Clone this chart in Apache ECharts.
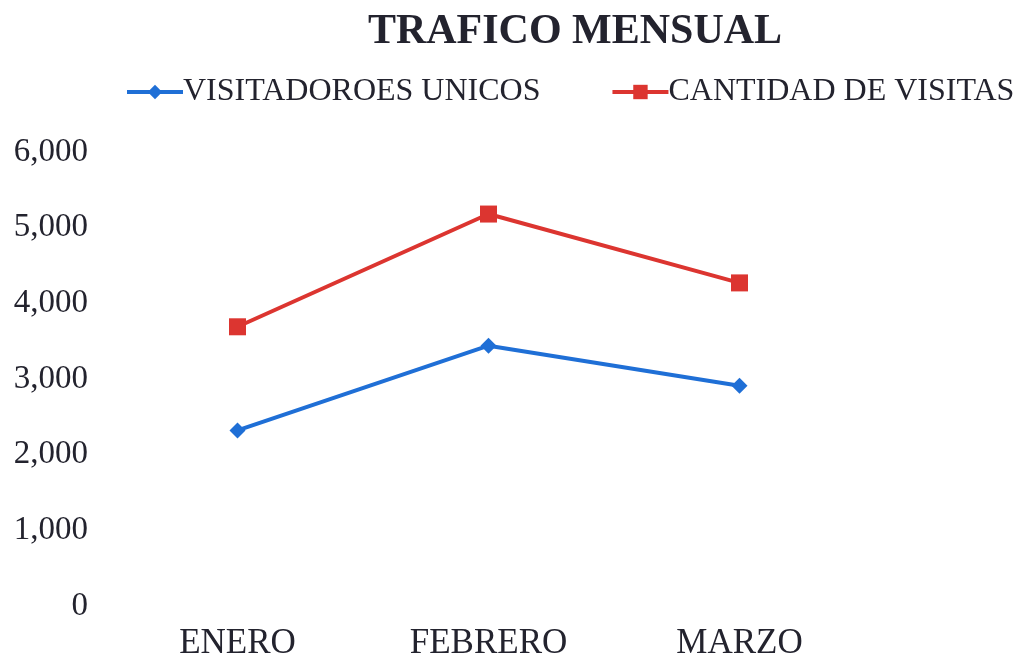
<!DOCTYPE html>
<html>
<head>
<meta charset="utf-8">
<script src="https://cdn.jsdelivr.net/npm/echarts@6/dist/echarts.min.js"></script>
<style>
  html, body { margin: 0; padding: 0; background: #fff; }
  #chart { width: 1022px; height: 661px; }
</style>
</head>
<body>
<div id="chart"></div>
<script>
// === Données ===
const meses = ['ENERO', 'FEBRERO', 'MARZO'];
const visitantesUnicos = [2320, 3440, 2910];
const cantidadVisitas = [3690, 5180, 4270];
const nombresSeries = ['VISITADOROES UNICOS', 'CANTIDAD DE VISITAS'];

const fuente = '"Liberation Serif", "DejaVu Serif", serif';
const colorTexto = '#23232e';

const chart = echarts.init(document.getElementById('chart'));
chart.setOption({
    animation: false,
    title: {
        text: 'TRAFICO MENSUAL',
        left: 570,
        textAlign: 'center',
        top: 6,
        textStyle: { fontFamily: fuente, fontSize: 42, fontWeight: 'bold', color: colorTexto }
    },
    legend: {
        top: 76,
        left: 125,
        width: 897,
        padding: 0,
        itemWidth: 56,
        itemHeight: 18,
        itemGap: 70,
        lineStyle: { width: 4 },
        textStyle: { fontFamily: fuente, fontSize: 32, color: colorTexto, padding: [0, 0, 0, -5] },
        data: nombresSeries
    },
    grid: { left: 112, right: 157, top: 152, bottom: 54 },
    xAxis: {
        type: 'category',
        data: meses,
        axisLine: { show: false },
        axisTick: { show: false },
        axisLabel: { fontFamily: fuente, fontSize: 35, color: colorTexto, margin: 20 }
    },
    yAxis: {
        type: 'value',
        min: 0,
        max: 6000,
        interval: 1000,
        axisLine: { show: false },
        axisTick: { show: false },
        splitLine: { show: false },
        axisLabel: {
            fontFamily: fuente, fontSize: 33, color: colorTexto, margin: 24,
            formatter: v => v.toLocaleString('en-US')
        }
    },
    series: [
        {
            name: nombresSeries[0],
            type: 'line',
            data: visitantesUnicos,
            symbol: 'diamond',
            symbolSize: 16,
            lineStyle: { width: 4, color: '#1f6fd6' },
            itemStyle: { color: '#1f6fd6' }
        },
        {
            name: nombresSeries[1],
            type: 'line',
            data: cantidadVisitas,
            symbol: 'rect',
            symbolSize: 17,
            lineStyle: { width: 4, color: '#dc3530' },
            itemStyle: { color: '#dc3530' }
        }
    ]
});
</script>
</body>
</html>
